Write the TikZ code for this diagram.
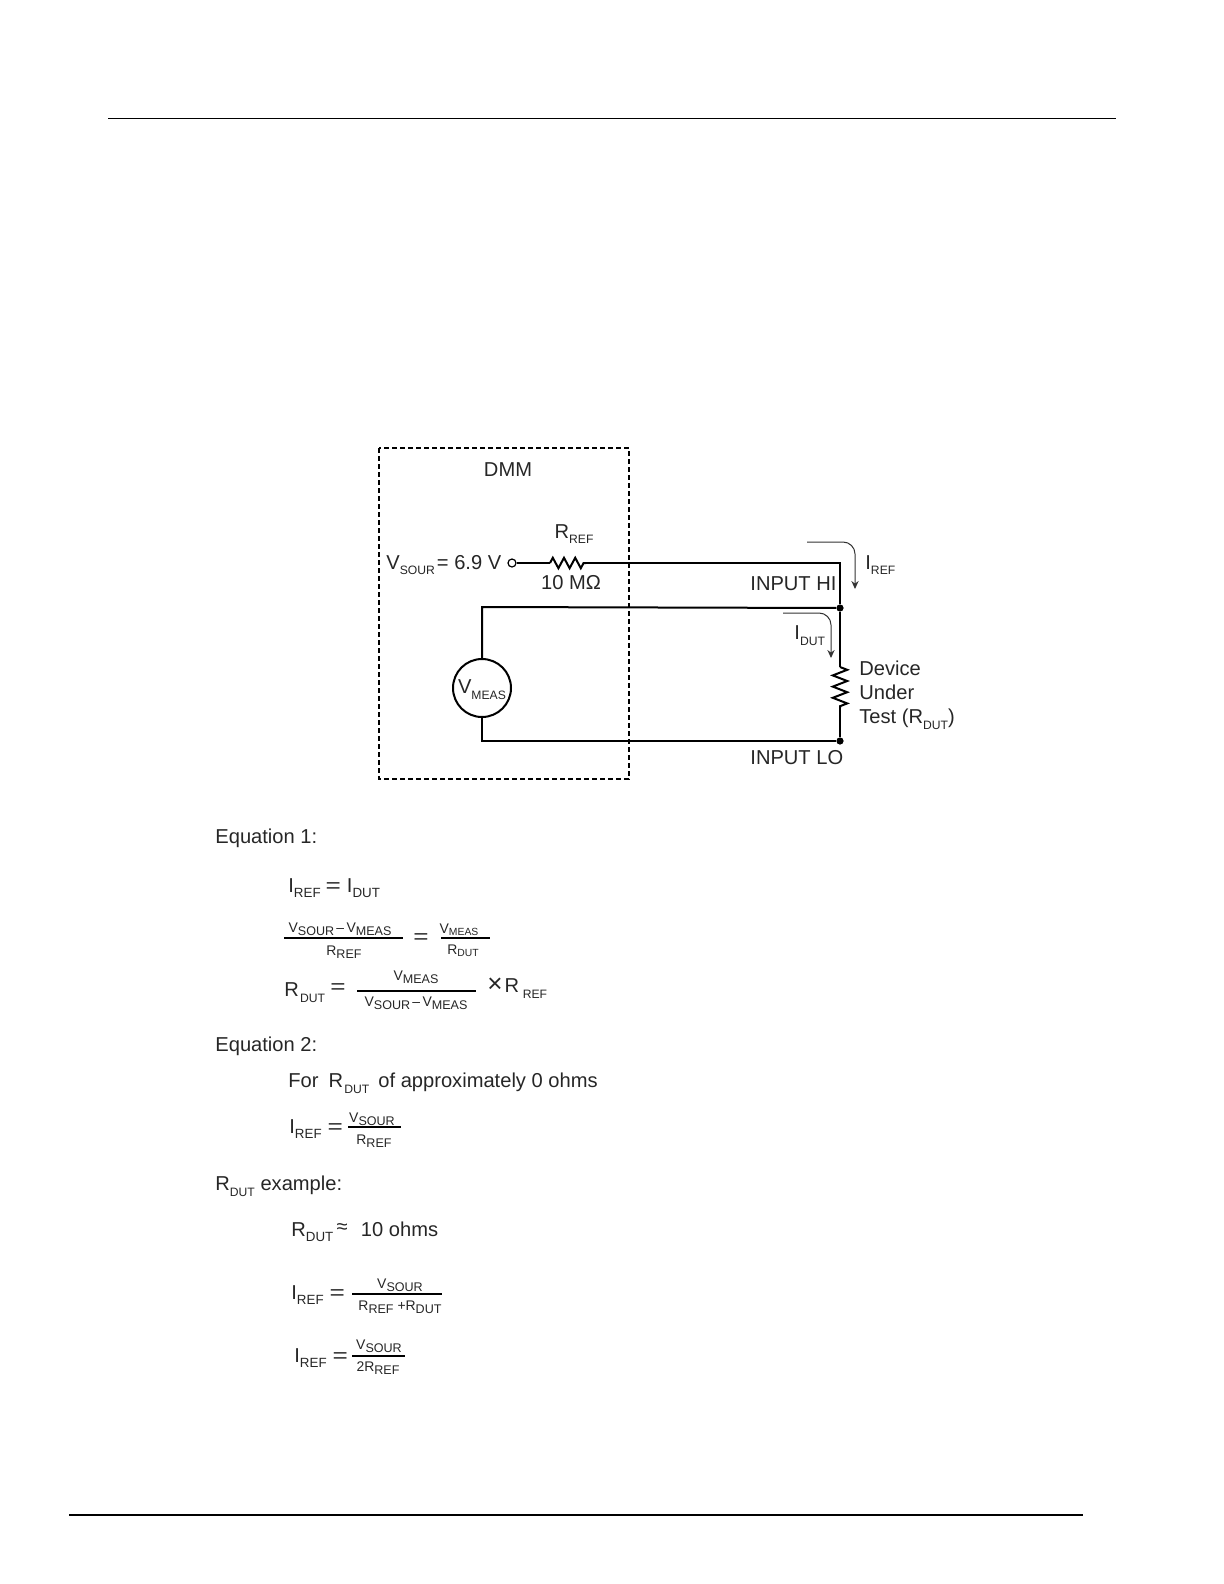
\documentclass[tikz,border=0pt]{standalone}
\usepackage{fontspec}
\usepackage{graphicx}
\setmainfont{Liberation Sans}
\usetikzlibrary{arrows.meta,decorations.pathmorphing}
\newcommand{\lo}[1]{\raisebox{-.55ex}{\fontsize{6.1}{7}\selectfont #1}}
\newcommand{\loe}[1]{\raisebox{-.45ex}{\fontsize{6.7}{7}\selectfont #1}}
\newcommand{\los}[1]{\raisebox{-.25ex}{\fontsize{5.2}{6}\selectfont #1}}
\newcommand{\lom}[1]{\raisebox{-.45ex}{\fontsize{6.3}{7}\selectfont #1}}
\newcommand{\eqs}{\scalebox{1.3}[1]{=}}
\tikzset{
  lbl/.style = {inner sep=0pt, text=black!85, font=\fontsize{10.1}{12}\selectfont},
  lft/.style = {lbl, anchor=west},
  frc/.style = {lbl, font=\fontsize{7}{8}\selectfont},
  wire/.style = {line width=1bp},
  res/.style = {wire, decorate, decoration={zigzag, segment length=5.6bp, amplitude=#1}},
  cur/.style = {-{Stealth[length=4bp,width=3.6bp]}, line width=.5bp, draw=black!80, rounded corners=6},
  bar/.style = {line width=.7bp}
}
\begin{document}
\begin{tikzpicture}[x=.5bp, y=-.5bp]
\useasboundingbox (0,0) rectangle (1224,1584);
% page rules
\draw[line width=.5bp] (108,118) -- (1116,118);
\draw[line width=1bp] (69,1515) -- (1083,1515);
% meter box
\draw[line width=1bp, dash pattern=on 2.5bp off 1.5bp] (379,448) rectangle (629,779);
\node (DMM) [lbl] at (508,470) {DMM};
\node (Rreflbl) [lbl] at (574,534) {R\lo{REF}};
\node (Rval) [lbl] at (571,583) {10 MΩ};
\node (Vsour) [lft] at (386,565) {V\lo{SOUR}\kern1pt= 6.9 V};
\node (Vopen) [circle, draw, line width=.6bp, inner sep=0pt, minimum size=4bp] at (512,563) {};
\coordinate (Ra) at (550,563);
\coordinate (Rb) at (586,563);
\coordinate (HIc) at (840,563);
\node (HI) [circle, fill, inner sep=0pt, minimum size=3.6bp] at (840,608) {};
\node (LO) [circle, fill, inner sep=0pt, minimum size=3.6bp] at (840,741) {};
\coordinate (Da) at (840,667);
\coordinate (Db) at (840,708);
\node (Vmeas) [circle, draw, wire, inner sep=0pt, minimum size=29bp] at (482,688) {};
\node (Vmeastxt) [lbl] at (482,690) {V\lo{MEAS}};
\coordinate (Mt) at (482,607);
\coordinate (Mb) at (482,741);
\draw[wire] (Vopen) -- (Ra);
\draw[res=2.6bp] (Ra) -- (Rb);
\draw[wire] (Rb) -- (HIc) -- (HI);
\draw[wire] (HI) -- (Da);
\draw[res=3.6bp] (Da) -- (Db);
\draw[wire] (Db) -- (LO);
\draw[wire] (Vmeas) -- (Mt) -- (HI);
\draw[wire] (Vmeas) -- (Mb) -- (LO);
% currents
\coordinate (Ca) at (807,542);
\coordinate (Cb) at (855,589);
\coordinate (Cc) at (783,613);
\coordinate (Cd) at (831,658);
\draw[cur] (Ca) -| (Cb);
\draw[cur] (Cc) -| (Cd);
\node (Ireflbl) [lft] at (865,565) {I\lo{REF}};
\node (Idutlbl) [lft] at (794,636) {I\lo{DUT}};
\node (HItxt) [lft] at (750,584) {INPUT HI};
\node (LOtxt) [lft] at (750,758) {INPUT LO};
\node (Dev1) [lft] at (859,668) {Device};
\node (Dev2) [lft] at (859,692) {Under};
\node (Dev3) [lft] at (859,719) {Test (R\lo{DUT})};
% equation 1
\node (E1) [lft] at (215,838) {Equation 1:};
\node (E1a) [lft] at (288,888) {I\loe{REF}\kern2.5pt\eqs\kern3pt I\loe{DUT}};
\node (E1n) [frc] at (340,929) {V\lom{SOUR}\,–\,V\lom{MEAS}};
\draw[bar] (284,938) -- (403,938);
\node (E1d) [frc] at (344,952) {R\lom{REF}};
\node (E1e) [lbl] at (421,939) {\eqs};
\node (E1m) [frc] at (459,930) {V\los{MEAS}};
\draw[bar] (441,938) -- (490,938);
\node (E1r) [frc] at (463,951) {R\los{DUT}};
\node (E1b) [lft] at (284,993) {R\kern.6pt\lo{DUT}};
\node (E1f) [lbl] at (338,989) {\eqs};
\node (E1p) [frc] at (416,977) {V\lom{MEAS}};
\draw[bar] (357,991) -- (476,991);
\node (E1q) [frc] at (416,1003) {V\lom{SOUR}\,–\,V\lom{MEAS}};
\node (E1x) [lft] at (487,988) {\scalebox{1.3}{×}\kern1pt R\kern1.8pt\lo{REF}};
% equation 2
\node (E2) [lft] at (215,1046) {Equation 2:};
\node (E2a) [lft] at (288,1083) {For\kern5pt R\kern.6pt\lo{DUT}\kern4.6pt of approximately 0 ohms};
\node (E2b) [lft] at (289,1129) {I\loe{REF}\kern3pt\eqs};
\node (E2n) [frc] at (372,1119) {V\lom{SOUR}};
\draw[bar] (348,1127) -- (401,1127);
\node (E2d) [frc] at (374,1141) {R\lom{REF}};
% example
\node (Ex) [lft] at (215,1186) {R\lo{DUT} example:};
\node (Exa) [lft] at (291,1232) {R\loe{DUT}\,\raisebox{.3ex}{≈}\ \ \kern1pt 10 ohms};
\node (Exb) [lft] at (291,1295) {I\loe{REF}\kern3pt\eqs};
\node (Exn) [frc] at (400,1285) {V\lom{SOUR}};
\draw[bar] (352,1294) -- (442,1294);
\node (Exd) [frc] at (400,1307) {R\lom{REF} +R\lom{DUT}};
\node (Exc) [lft] at (294,1358) {I\loe{REF}\kern3pt\eqs};
\node (Exp) [frc] at (379,1346) {V\lom{SOUR}};
\draw[bar] (352,1356) -- (405,1356);
\node (Exq) [frc] at (378,1368) {2R\lom{REF}};
\end{tikzpicture}
\end{document}
